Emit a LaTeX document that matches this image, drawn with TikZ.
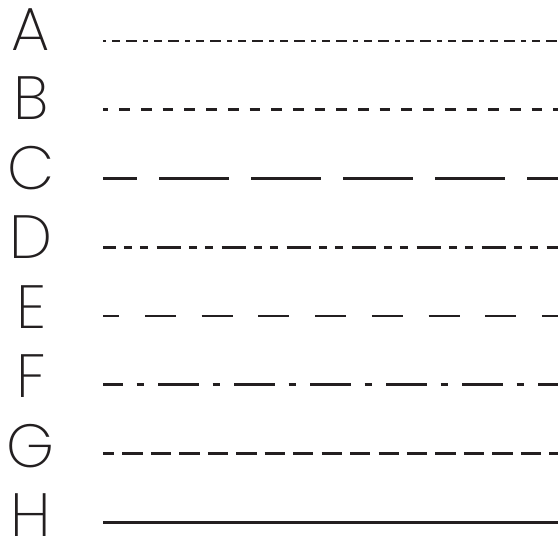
\documentclass[tikz,border=0pt]{standalone}
\usepackage{fontspec}
\setmainfont{Poppins}[UprightFont=* ExtraLight]
\usepackage{xcolor}
\usepackage{tikz}

\definecolor{ink}{RGB}{35,31,32}

\tikzset{
  letter/.style={anchor=base, inner sep=0pt, text=ink, font=\fontsize{61}{63}\selectfont},
  stroke/.style={line width=2.7pt, draw=ink}
}

\begin{document}
\begin{tikzpicture}[x=1pt, y=-1pt]
\useasboundingbox (0,0) rectangle (558,538);

% A: dash-dash-dot
\node[letter] (labA) at (31,50) {A};
\coordinate (a0) at (103.3,41);
\coordinate (a1) at (558,41);
\draw[stroke, dash pattern=on 5pt off 6pt on 8pt off 6pt on 11pt off 6pt, dash phase=2.3pt] (a0) -- (a1);

% B: short dashes
\node[letter] (labB) at (31,119.5) {B};
\coordinate (b0) at (103.3,109.75);
\coordinate (b1) at (558,109.75);
\draw[stroke, dash pattern=on 10.7pt off 11pt, dash phase=5.7pt] (b0) -- (b1);

% C: long dashes
\node[letter] (labC) at (31,189) {C};
\coordinate (c0) at (103.3,178.5);
\coordinate (c1) at (558,178.5);
\draw[stroke, dash pattern=on 69.3pt off 22.7pt, dash phase=36pt] (c0) -- (c1);

% D: long, short, short
\node[letter] (labD) at (31,258.5) {D};
\coordinate (d0) at (103.3,247.25);
\coordinate (d1) at (558,247.25);
\draw[stroke, dash pattern=on 24pt off 8.3pt on 8pt off 8pt on 8.3pt off 8.4pt, dash phase=11.7pt] (d0) -- (d1);

% E: medium dashes
\node[letter] (labE) at (31,328) {E};
\coordinate (e0) at (103.3,316);
\coordinate (e1) at (558,316);
\draw[stroke, dash pattern=on 31pt off 25.7pt, dash phase=15pt] (e0) -- (e1);

% F: long, short
\node[letter] (labF) at (31,397.5) {F};
\coordinate (f0) at (103.3,384.75);
\coordinate (f1) at (558,384.75);
\draw[stroke, dash pattern=on 41pt off 13.3pt on 7.7pt off 14pt, dash phase=21pt] (f0) -- (f1);

% G: dense dashes
\node[letter] (labG) at (31,467) {G};
\coordinate (g0) at (103.3,453.5);
\coordinate (g1) at (558,453.5);
\draw[stroke, dash pattern=on 20.3pt off 8.15pt, dash phase=9.3pt] (g0) -- (g1);

% H: solid
\node[letter] (labH) at (31,536) {H};
\coordinate (h0) at (103.3,522.25);
\coordinate (h1) at (558,522.25);
\draw[stroke] (h0) -- (h1);
\end{tikzpicture}
\end{document}
